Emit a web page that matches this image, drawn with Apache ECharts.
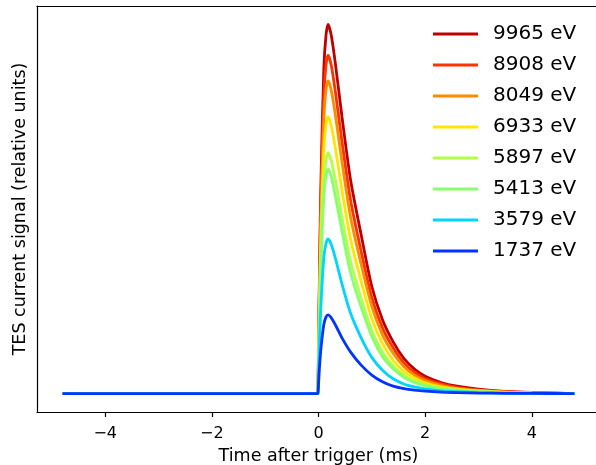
<!DOCTYPE html>
<html>
<head>
<meta charset="utf-8">
<script src="https://cdn.jsdelivr.net/npm/echarts@6/dist/echarts.min.js"></script>
<style>html,body{margin:0;padding:0;background:#fff;overflow:hidden;width:596px;height:465px;}#c{width:640px;height:465px;}</style>
</head>
<body>
<div id="c"></div>
<script>
// time after trigger (ms) for each sample
const times = [-4.8, -0.01, 0, 0.02, 0.05, 0.1, 0.14, 0.18, 0.24, 0.32, 0.44, 0.6, 0.8, 1.0, 1.2, 1.4, 1.6, 1.8, 2.0, 2.3, 2.6, 3.0, 3.5, 4.0, 4.8];
const energies = ['9965 eV', '8908 eV', '8049 eV', '6933 eV', '5897 eV', '5413 eV', '3579 eV', '1737 eV'];
const colors = ['#c00000', '#ff3300', '#ff8c00', '#ffe600', '#b0ff48', '#88ff70', '#00d4ff', '#0033ff'];
const xTicks = [-4, -2, 0, 2, 4];

const pulse9965 = [0, 0, 0, 0.35, 0.60, 0.88, 0.97, 1.00, 0.97, 0.89, 0.75, 0.58, 0.43, 0.29, 0.20, 0.14, 0.095, 0.066, 0.047, 0.030, 0.020, 0.012, 0.006, 0.003, 0];
const pulse8908 = [0, 0, 0, 0.321, 0.550, 0.807, 0.889, 0.917, 0.889, 0.814, 0.683, 0.525, 0.385, 0.260, 0.178, 0.124, 0.083, 0.057, 0.041, 0.026, 0.017, 0.010, 0.005, 0.0025, 0];
const pulse8049 = [0, 0, 0, 0.297, 0.509, 0.746, 0.823, 0.848, 0.821, 0.751, 0.628, 0.479, 0.350, 0.236, 0.159, 0.109, 0.073, 0.050, 0.035, 0.022, 0.014, 0.0085, 0.0042, 0.002, 0];
const pulse6933 = [0, 0, 0, 0.263, 0.450, 0.660, 0.728, 0.750, 0.725, 0.662, 0.551, 0.419, 0.304, 0.203, 0.135, 0.090, 0.060, 0.042, 0.029, 0.018, 0.012, 0.007, 0.0034, 0.0015, 0];
const pulse5897 = [0, 0, 0, 0.229, 0.392, 0.575, 0.633, 0.653, 0.631, 0.575, 0.477, 0.359, 0.258, 0.170, 0.112, 0.075, 0.050, 0.034, 0.024, 0.014, 0.0098, 0.0056, 0.0026, 0.0013, 0];
const pulse5413 = [0, 0, 0, 0.213, 0.365, 0.535, 0.590, 0.608, 0.587, 0.532, 0.441, 0.328, 0.234, 0.155, 0.100, 0.067, 0.044, 0.030, 0.021, 0.013, 0.0085, 0.0049, 0.0024, 0.0011, 0];
const pulse3579 = [0, 0, 0, 0.147, 0.251, 0.369, 0.406, 0.419, 0.404, 0.365, 0.297, 0.218, 0.151, 0.098, 0.063, 0.040, 0.026, 0.018, 0.0126, 0.0075, 0.005, 0.0025, 0.0013, 0.0005, 0];
const pulse1737 = [0, 0, 0, 0.075, 0.128, 0.187, 0.207, 0.213, 0.205, 0.185, 0.151, 0.113, 0.077, 0.050, 0.032, 0.020, 0.0134, 0.0092, 0.0064, 0.0038, 0.0026, 0.0013, 0.0006, 0.0003, 0];
const pulses = [pulse9965, pulse8908, pulse8049, pulse6933, pulse5897, pulse5413, pulse3579, pulse1737];

const font = 'DejaVu Sans';
const chart = echarts.init(document.getElementById('c'), null, {renderer: 'canvas', width: 640, height: 465});
chart.setOption({
  animation: false,
  backgroundColor: '#fff',
  textStyle: {fontFamily: font},
  grid: {left: 37, right: 40, top: 6, bottom: 53, outerBoundsMode: 'none', containLabel: false, show: false},
  graphic: [{type: 'rect', z: 100, silent: true, shape: {x: 584, y: 8, width: 60, height: 402}, style: {fill: '#fff'}}],
  legend: {
    orient: 'vertical', left: 433, top: 24, padding: 0,
    itemWidth: 45, itemHeight: 14, itemGap: 11,
    icon: 'path://M0,5.6 L45,5.6 L45,8.4 L0,8.4 Z',
    textStyle: {fontFamily: font, fontSize: 20, color: '#000', padding: [0, 0, 0, 10]},
    data: energies
  },
  xAxis: [{
    type: 'value', min: -5.28, max: 5.28,
    name: 'Time after trigger (ms)', nameLocation: 'middle', nameGap: 35,
    nameTextStyle: {fontFamily: font, fontSize: 17.5, color: '#000'},
    axisLine: {show: true, onZero: false, lineStyle: {color: '#000', width: 1.2}},
    axisTick: {show: true, length: 5, lineStyle: {color: '#000', width: 1.2}, customValues: xTicks},
    axisLabel: {show: true, fontFamily: font, fontSize: 16, color: '#000', margin: 14, customValues: xTicks,
      formatter: v => String(v).replace('-', '\u2212')},
    splitLine: {show: false}
  }, {
    type: 'value', position: 'top', min: -5.28, max: 5.28,
    axisLine: {show: true, onZero: false, lineStyle: {color: '#000', width: 1.2}},
    axisTick: {show: false}, axisLabel: {show: false}, splitLine: {show: false}
  }],
  yAxis: {
    type: 'value', min: -0.05, max: 1.05,
    name: 'TES current signal (relative units)', nameLocation: 'middle', nameGap: 8, nameRotate: 90,
    nameTextStyle: {fontFamily: font, fontSize: 17.5, color: '#000'},
    axisLine: {show: true, onZero: false, lineStyle: {color: '#000', width: 1.2}},
    axisTick: {show: false}, axisLabel: {show: false}, splitLine: {show: false}
  },
  series: energies.map((name, i) => ({
    name: name, type: 'line', symbol: 'none', smooth: 0.25, xAxisIndex: 0,
    color: colors[i],
    lineStyle: {color: colors[i], width: 2.8},
    data: times.map((t, j) => [t, pulses[i][j]])
  }))
});
</script>
</body>
</html>
